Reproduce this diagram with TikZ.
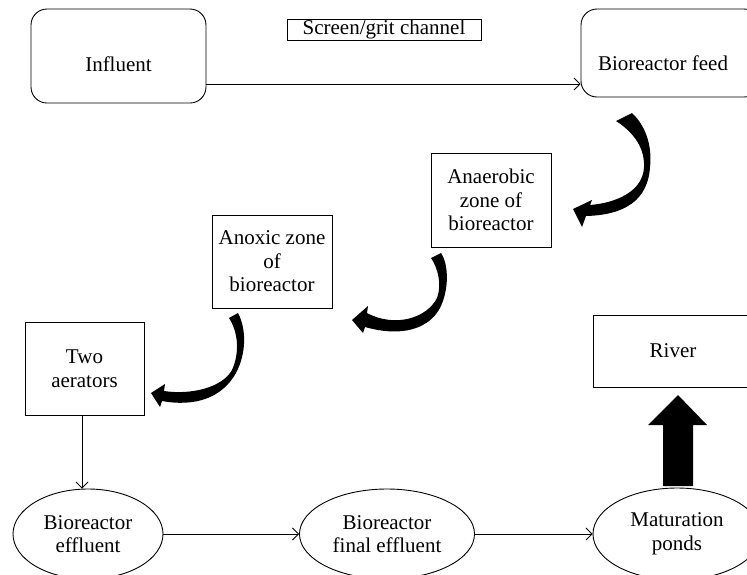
\documentclass[tikz,border=0pt]{standalone}
\usepackage{fontspec}
\setmainfont{Liberation Serif}
\usetikzlibrary{arrows.meta,shapes.geometric}
\begin{document}
\begin{tikzpicture}[x=1pt,y=-1pt,
  box/.style={draw, line width=0.9pt, inner sep=0pt, align=center},
  rbox/.style={box, rounded corners=16pt},
  oval/.style={draw, ellipse, line width=0.9pt, inner sep=0pt, align=center},
  conn/.style={line width=0.9pt, -{Straight Barb[length=6pt,width=12pt]}},
  bent/.style={fill=black},
  font=\fontsize{21}{23.5}\selectfont]
\clip (0,0) rectangle (747,574);
\fill[white] (0,0) rectangle (747,574);
% boxes
\node[rbox, minimum width=175pt, minimum height=94pt] (inf) at (118.5,56) {};
\node (inft) at (118.5,64) {Influent};
\node[rbox, minimum width=179pt, minimum height=88pt] (feed) at (670.5,53) {};
\node (feedt) at (663,63) {Bioreactor feed};
\node[box, minimum width=194pt, minimum height=21pt] (grit) at (384,29.5) {Screen/grit channel};
\node[box, minimum width=120pt, minimum height=94pt] (ana) at (491,200) {Anaerobic\\zone of\\bioreactor};
\node[box, minimum width=120pt, minimum height=93pt] (anox) at (272,261.5) {Anoxic zone\\of\\bioreactor};
\node[box, minimum width=119pt, minimum height=93pt] (aer) at (84.5,368.5) {Two\\aerators};
\node[box, minimum width=160pt, minimum height=72pt] (river) at (673,351) {River};
\node[oval, minimum width=150pt, minimum height=90pt] (e1) at (88,534) {Bioreactor\\effluent};
\node[oval, minimum width=175pt, minimum height=90pt] (e2) at (387,534) {Bioreactor\\final effluent};
\node[oval, minimum width=168pt, minimum height=92pt] (e3) at (677,534) {Maturation\\ponds};
% thin connectors
\draw[conn] (inf.east |- 0,84) -- (feed.west |- 0,84);
\draw[conn] (aer.south -| 82,0) -- (e1.north -| 82,0);
\draw[conn] (e1.east) -- (e2.west);
\draw[conn] (e2.east) -- (e3.west);
% curved block arrows
\fill[bent] (616,121) -- (632,113)
  .. controls (648,128) and (652,150) .. (650,167)
  .. controls (648,200) and (625,215) .. (586,216)
  -- (582,227) -- (573,209) -- (592,200) -- (590,205)
  .. controls (615,203) and (643,192) .. (644,167)
  .. controls (645,145) and (630,130) .. (616,121) -- cycle;
\fill[bent] (431,258) -- (441,253)
  .. controls (449,265) and (449,290) .. (440,308)
  .. controls (428,330) and (400,337) .. (365,327)
  -- (363,333) -- (352,320) -- (368,306) -- (367,313)
  .. controls (395,328) and (427,318) .. (437,298)
  .. controls (442,285) and (438,268) .. (431,258) -- cycle;
\fill[bent] (229,318) -- (238,313)
  .. controls (246,328) and (247,352) .. (236,373)
  .. controls (222,398) and (195,407) .. (162,401)
  -- (160,407) -- (151,393) -- (165,384) -- (164,391)
  .. controls (190,395) and (222,388) .. (232,370)
  .. controls (240,352) and (238,332) .. (229,318) -- cycle;
% thick straight arrow to river
\fill[bent] (663,486) -- (663,425) -- (648,425) -- (678,395) -- (707,425) -- (693,425) -- (693,486) -- cycle;
\end{tikzpicture}
\end{document}
